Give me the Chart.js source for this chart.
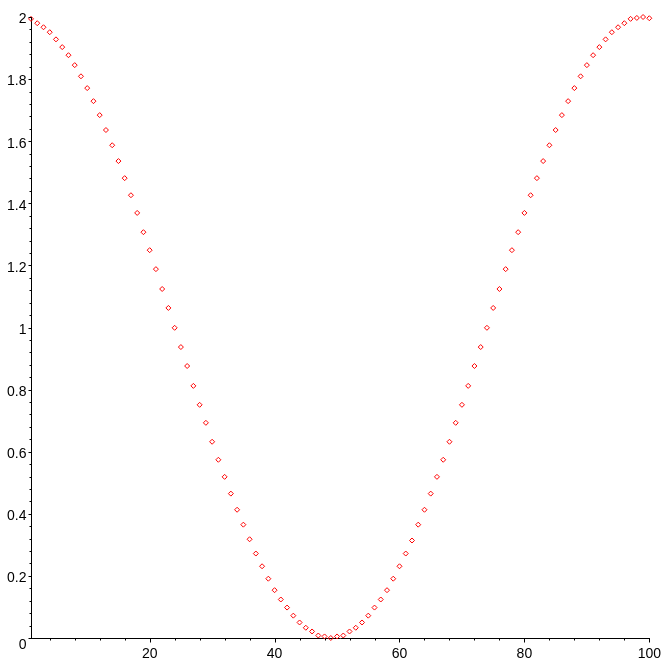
<!DOCTYPE html>
<html>
<head>
<meta charset="utf-8">
<script src="https://cdn.jsdelivr.net/npm/chart.js@4.4.1/dist/chart.umd.min.js"></script>
<style>
  html, body { margin: 0; padding: 0; background: #fff; }
  canvas { display: block; }
</style>
</head>
<body>
<canvas id="plot" width="669" height="669"></canvas>
<script>
// data (index 1..100)
const xIndex = [
  1,2,3,4,5,6,7,8,9,10,11,12,13,14,15,16,17,18,19,20,
  21,22,23,24,25,26,27,28,29,30,31,32,33,34,35,36,37,38,39,40,
  41,42,43,44,45,46,47,48,49,50,51,52,53,54,55,56,57,58,59,60,
  61,62,63,64,65,66,67,68,69,70,71,72,73,74,75,76,77,78,79,80,
  81,82,83,84,85,86,87,88,89,90,91,92,93,94,95,96,97,98,99,100
];
const yValues = [
  1.994,1.980,1.967,1.951,1.928,1.903,1.877,1.845,1.809,1.771,
  1.729,1.684,1.636,1.587,1.536,1.481,1.426,1.369,1.307,1.249,
  1.188,1.124,1.063,0.999,0.937,0.876,0.812,0.751,0.693,0.632,
  0.574,0.519,0.465,0.413,0.365,0.318,0.272,0.231,0.191,0.154,
  0.124,0.098,0.072,0.050,0.033,0.021,0.008,0.005,0.000,0.005,
  0.008,0.021,0.033,0.050,0.072,0.098,0.124,0.154,0.191,0.231,
  0.272,0.314,0.365,0.413,0.465,0.519,0.574,0.632,0.693,0.751,
  0.812,0.876,0.937,0.999,1.063,1.124,1.188,1.249,1.307,1.369,
  1.426,1.481,1.536,1.587,1.636,1.684,1.729,1.771,1.809,1.845,
  1.877,1.903,1.928,1.951,1.967,1.980,1.994,1.997,2.000,1.996
];

// ticks
const xTickValues = [20, 40, 60, 80, 100];
const xTickLabels = ['20', '40', '60', '80', '100'];
const xMinorTicks = [4,8,12,16,24,28,32,36,44,48,52,56,64,68,72,76,84,88,92,96];
const yTickValues = [0, 0.2, 0.4, 0.6, 0.8, 1, 1.2, 1.4, 1.6, 1.8, 2];
const yTickLabels = ['0', '0.2', '0.4', '0.6', '0.8', '1', '1.2', '1.4', '1.6', '1.8', '2'];
const yMinorTicks = [
  0.04,0.08,0.12,0.16,0.24,0.28,0.32,0.36,0.44,0.48,0.52,0.56,0.64,0.68,0.72,0.76,
  0.84,0.88,0.92,0.96,1.04,1.08,1.12,1.16,1.24,1.28,1.32,1.36,1.44,1.48,1.52,1.56,
  1.64,1.68,1.72,1.76,1.84,1.88,1.92,1.96
];

const points = xIndex.map((x, i) => ({ x: x, y: yValues[i] }));
const fontFamily = "'Liberation Sans', Arial, sans-serif";

// small tick marks like the maple axes (major a bit longer) + y labels
const axesExtras = {
  id: 'axesExtras',
  afterDraw(chart) {
    const ctx = chart.ctx;
    const xs = chart.scales.x, ys = chart.scales.y;
    const axisY = Math.round(ys.getPixelForValue(0)) + 0.5;
    const axisX = Math.round(xs.getPixelForValue(1)) + 0.5;
    ctx.save();
    ctx.strokeStyle = '#000';
    ctx.lineWidth = 1;
    ctx.beginPath();
    xTickValues.forEach(v => {
      const p = Math.round(xs.getPixelForValue(v)) + 0.5;
      ctx.moveTo(p, axisY); ctx.lineTo(p, axisY + 4);
    });
    xMinorTicks.forEach(v => {
      const p = Math.round(xs.getPixelForValue(v)) + 0.5;
      ctx.moveTo(p, axisY); ctx.lineTo(p, axisY + 2);
    });
    yTickValues.forEach(v => {
      const p = Math.round(ys.getPixelForValue(v)) + 0.5;
      ctx.moveTo(axisX, p); ctx.lineTo(axisX - 3, p);
    });
    yMinorTicks.forEach(v => {
      const p = Math.round(ys.getPixelForValue(v)) + 0.5;
      ctx.moveTo(axisX, p); ctx.lineTo(axisX - 2, p);
    });
    ctx.stroke();

    // y labels sit a touch below their tick, the 0 gets pushed under the corner
    ctx.fillStyle = '#000';
    ctx.font = '14px ' + fontFamily;
    ctx.textAlign = 'right';
    ctx.textBaseline = 'middle';
    yTickValues.forEach((v, i) => {
      const p = ys.getPixelForValue(v) + (v === 0 ? 7 : 2.5);
      ctx.fillText(yTickLabels[i], axisX - 5, p);
    });
    ctx.restore();
  }
};

new Chart(document.getElementById('plot'), {
  type: 'scatter',
  data: {
    datasets: [{
      data: points,
      pointStyle: 'rectRot',
      pointRadius: 2.5,
      pointBorderWidth: 1,
      pointBorderColor: '#ff0000',
      pointBackgroundColor: 'rgba(0,0,0,0)',
      showLine: false,
      clip: false
    }]
  },
  options: {
    responsive: false,
    animation: false,
    events: [],
    layout: { padding: { top: 17, right: 17, left: 0, bottom: 0 } },
    plugins: { legend: { display: false }, tooltip: { enabled: false } },
    scales: {
      x: {
        type: 'linear', min: 1, max: 100,
        grid: { display: false, drawTicks: false },
        border: { display: true, color: '#000', width: 1 },
        afterBuildTicks: s => { s.ticks = xTickValues.map(v => ({ value: v })); },
        afterFit: s => { s.height = 31; },
        ticks: {
          color: '#000', font: { family: fontFamily, size: 14 }, padding: 8, maxRotation: 0, autoSkip: false,
          callback: v => xTickLabels[xTickValues.indexOf(v)]
        }
      },
      y: {
        type: 'linear', min: 0, max: 2,
        grid: { display: false, drawTicks: false },
        border: { display: true, color: '#000', width: 1 },
        afterBuildTicks: s => { s.ticks = yTickValues.map(v => ({ value: v })); },
        afterFit: s => { s.width = 31; },
        ticks: { display: false }
      }
    }
  },
  plugins: [axesExtras]
});
</script>
</body>
</html>
